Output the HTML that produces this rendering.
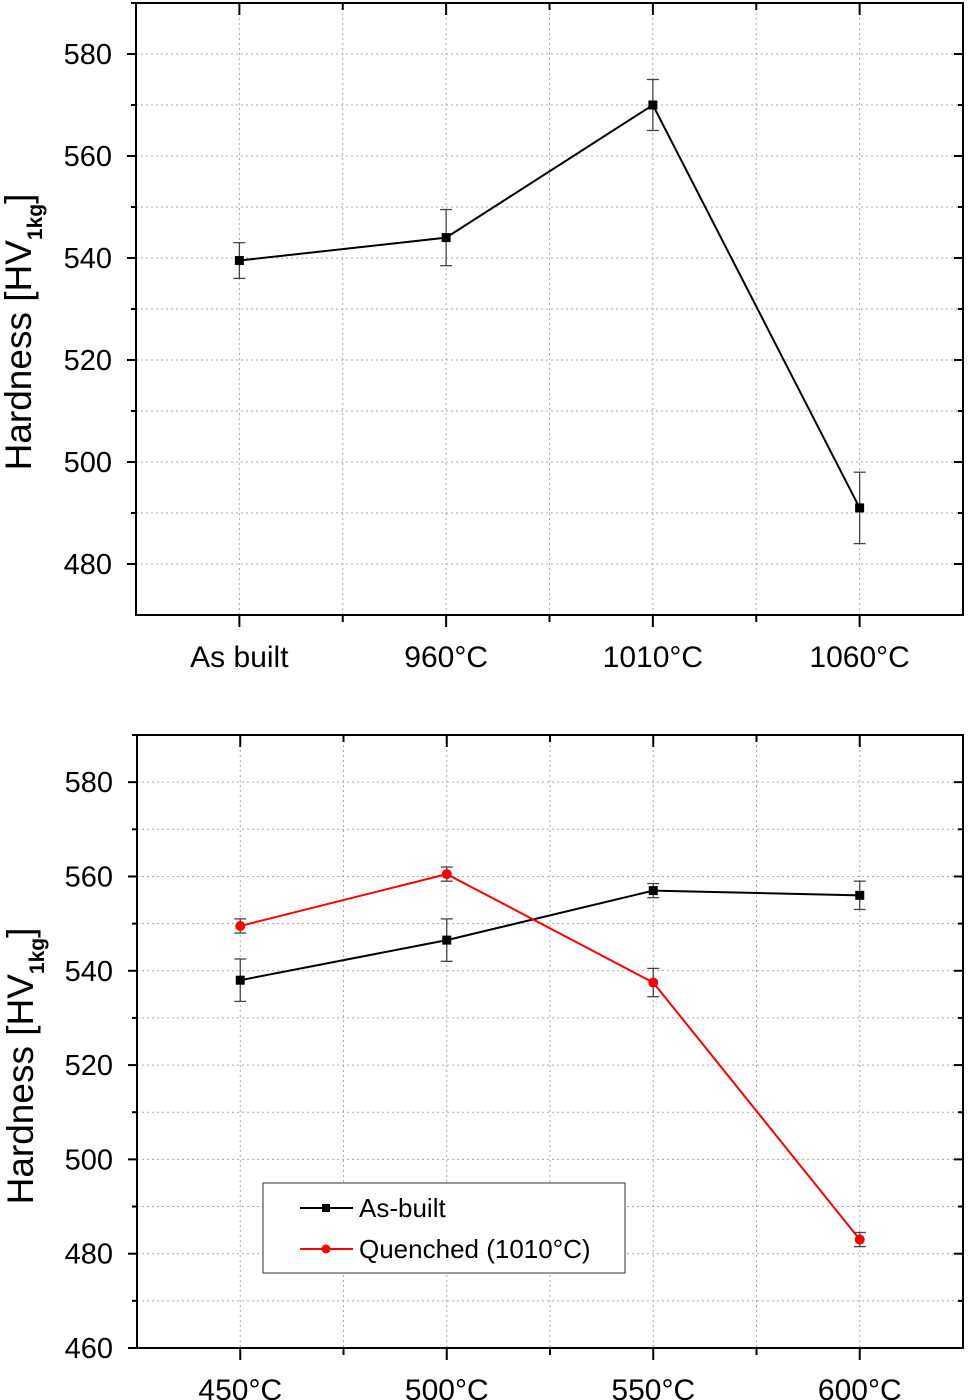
<!DOCTYPE html>
<html><head><meta charset="utf-8"><style>
html,body{margin:0;padding:0;background:#fff;width:968px;height:1400px;overflow:hidden}
svg{display:block}
text{font-family:"Liberation Sans",sans-serif;fill:#000}
</style></head><body>
<svg id="svg" width="968" height="1400" viewBox="0 0 968 1400" xmlns="http://www.w3.org/2000/svg"></svg>
<script>
const topCategories = ["As built","960°C","1010°C","1060°C"];
const topValues = [539.5, 544, 570, 491];
const topErrors = [3.5, 5.5, 5, 7];
const topTicks = [480, 500, 520, 540, 560, 580];

const botCategories = ["450°C","500°C","550°C","600°C"];
const asBuiltValues = [538, 546.5, 557, 556];
const asBuiltErrors = [4.5, 4.5, 1.5, 3];
const quenchedValues = [549.5, 560.5, 537.5, 483];
const quenchedErrors = [1.5, 1.5, 3, 1.5];
const botTicks = [460, 480, 500, 520, 540, 560, 580];

const NS = "http://www.w3.org/2000/svg";
const svg = document.getElementById('svg');
function mk(tag, attrs, parent, name){
  const e = document.createElementNS(NS, tag);
  for (const k in attrs) e.setAttribute(k, attrs[k]);
  
  
  (parent||svg).appendChild(e);
  return e;
}

function chart(cfg){
  const g = mk('g', {}, svg, cfg.name);
  const L=cfg.left, R=cfg.right, T=cfg.top, B=cfg.bottom;
  const n = cfg.categories.length;
  const step = (R-L)/n;
  const x = i => L + (i+0.5)*step;
  const y = v => B - (v-cfg.ymin)/(cfg.ymax-cfg.ymin)*(B-T);
  for (let v=cfg.ymin; v<=cfg.ymax; v+=10){
    if (v===cfg.ymin) continue;
    mk('line',{x1:L,x2:R,y1:y(v),y2:y(v),stroke:'#aaa','stroke-width':1,'stroke-dasharray':'2,3'},g,'grid-line-h');
  }
  for (let k=1; k<2*n; k++){
    const xx = L + k*step/2;
    mk('line',{x1:xx,x2:xx,y1:T,y2:B,stroke:'#aaa','stroke-width':1,'stroke-dasharray':'2,3'},g,'grid-line-v');
  }
  mk('rect',{x:L,y:T,width:R-L,height:B-T,fill:'none',stroke:'#000','stroke-width':2},g,'plot-frame');
  for (let v=cfg.ymin; v<=cfg.ymax; v+=10){
    const major = (v%20===0);
    const len = major?9:5;
    if (v!==cfg.ymin || cfg.tickMin){
      mk('line',{x1:L-len,x2:L,y1:y(v),y2:y(v),stroke:'#000','stroke-width':2},g,'y-tick');
      mk('line',{x1:R,x2:R-len,y1:y(v),y2:y(v),stroke:'#000','stroke-width':2},g,'y-tick-right');
    }
  }
  cfg.ticks.forEach(v=>{
    const t = mk('text',{x:L-24,y:y(v)+10,'text-anchor':'end','font-size':29},g,'y-tick-label');
    t.textContent = v;
  });
  for (let k=1; k<2*n; k++){
    const xx = L + k*step/2;
    const len = (k%2===1)?12:7;
    mk('line',{x1:xx,x2:xx,y1:B,y2:B+len,stroke:'#000','stroke-width':2},g,'x-tick');
    mk('line',{x1:xx,x2:xx,y1:T,y2:T+len,stroke:'#000','stroke-width':2},g,'x-tick-top');
  }
  cfg.categories.forEach((c,i)=>{
    const t = mk('text',{x:x(i),y:B+52,'text-anchor':'middle','font-size':30},g,'x-tick-label');
    t.textContent = c;
  });
  const ty = mk('text',{transform:`translate(${cfg.titleX},${cfg.titleY}) rotate(-90)`,'text-anchor':'middle','font-size':37},g,'y-axis-title');
  ty.innerHTML = 'Hardness [HV<tspan font-size="21" font-weight="bold" dy="11">1kg</tspan><tspan dy="-11">]</tspan>';
  cfg.series.forEach(s=>{
    const sg = mk('g',{},g,s.name);
    const pts = s.values.map((v,i)=>x(i)+','+y(v)).join(' ');
    mk('polyline',{points:pts,fill:'none',stroke:s.color,'stroke-width':2},sg,'series-line');
    s.values.forEach((v,i)=>{
      const e = s.errors[i];
      const xx=x(i), y1=y(v+e), y2=y(v-e);
      mk('line',{x1:xx,x2:xx,y1:y1,y2:y2,stroke:'#444','stroke-width':1.3},sg,'error-bar');
      mk('line',{x1:xx-6,x2:xx+6,y1:y1,y2:y1,stroke:'#444','stroke-width':1.3},sg,'error-cap');
      mk('line',{x1:xx-6,x2:xx+6,y1:y2,y2:y2,stroke:'#444','stroke-width':1.3},sg,'error-cap');
      if (s.marker==='square') mk('rect',{x:xx-4.5,y:y(v)-4.5,width:9,height:9,fill:s.color},sg,'data-point');
      else mk('circle',{cx:xx,cy:y(v),r:5,fill:s.color},sg,'data-point');
    });
  });
  return {x,y};
}

chart({name:'top-chart',left:136,right:963,top:3,bottom:615,ymin:470,ymax:590,
  categories:topCategories,ticks:topTicks,titleX:31,titleY:332,tickMin:false,
  series:[{name:'series-top',values:topValues,errors:topErrors,color:'#000',marker:'square'}]});

chart({name:'bottom-chart',left:137,right:963,top:735,bottom:1348,ymin:460,ymax:590,
  categories:botCategories,ticks:botTicks,titleX:33,titleY:1066,tickMin:true,
  series:[{name:'series-as-built',values:asBuiltValues,errors:asBuiltErrors,color:'#000',marker:'square'},
          {name:'series-quenched',values:quenchedValues,errors:quenchedErrors,color:'#f00',marker:'circle'}]});

const lg = mk('g',{},svg,'legend');
mk('rect',{x:263,y:1183,width:362,height:90,fill:'#fff',stroke:'#333','stroke-width':1},lg,'legend-box');
mk('line',{x1:300,x2:353,y1:1208,y2:1208,stroke:'#000','stroke-width':2},lg,'legend-line-as-built');
mk('rect',{x:322,y:1204,width:8,height:8,fill:'#000'},lg,'legend-marker-as-built');
const t1 = mk('text',{x:359,y:1217,'font-size':26},lg,'legend-label-as-built'); t1.textContent='As-built';
mk('line',{x1:300,x2:353,y1:1249,y2:1249,stroke:'#f00','stroke-width':2},lg,'legend-line-quenched');
mk('circle',{cx:326,cy:1249,r:4.5,fill:'#f00'},lg,'legend-marker-quenched');
const t2 = mk('text',{x:359,y:1258,'font-size':26},lg,'legend-label-quenched'); t2.textContent='Quenched (1010°C)';
</script>
</body></html>
